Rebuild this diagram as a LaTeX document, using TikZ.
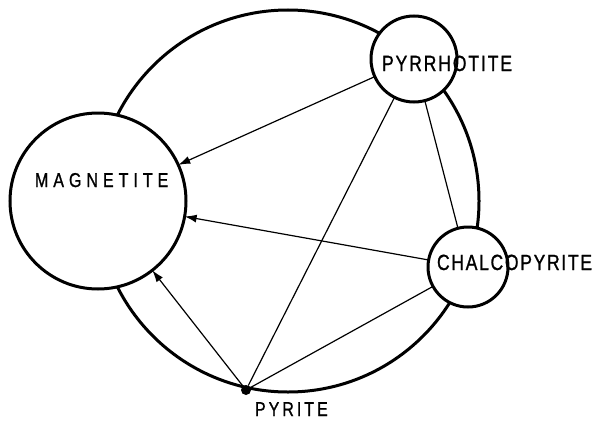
\documentclass[tikz,border=0pt]{standalone}
\usepackage{fontspec}
\usetikzlibrary{arrows.meta}
\newfontfamily\labfont[FakeStretch=0.8,FakeBold=1]{Liberation Sans}
\tikzset{
  mineral/.style={circle, draw, line width=3pt, fill=white, inner sep=0pt, outer sep=0pt},
  dotnode/.style={circle, fill=black, inner sep=0pt, minimum size=10pt, outer sep=0pt},
  link/.style={line width=1.2pt},
  flow/.style={line width=1.2pt, -{Latex[length=12pt,width=8pt]}},
  lab/.style={anchor=base west, inner sep=0pt, outer sep=0pt},
}
\begin{document}
\begin{tikzpicture}[x=1pt,y=-1pt]
\useasboundingbox (0,0) rectangle (593,420);
% large cycle
\draw[line width=3pt] (288,201) circle[radius=191pt];
% mineral nodes
\node[mineral, minimum size=176pt] (M) at (98,201) {};
\node[mineral, minimum size=86pt] (Po) at (414,59) {};
\node[mineral, minimum size=80pt] (Cp) at (468,267) {};
\node[dotnode] (Py) at (246,390) {};
% connectors
\draw[flow] (Po) -- (M);
\draw[flow] (Cp) -- (M);
\draw[flow] (Py) -- (M);
\draw[link] (Po) -- (Py);
\draw[link] (Po) -- (Cp);
\draw[link] (Cp) -- (Py);
% labels
\node[lab, font={\fontsize{20}{20}\labfont\addfontfeature{LetterSpace=25}}] (tM) at (35,187) {MAGNETITE};
\node[lab, font={\fontsize{22}{22}\labfont\addfontfeature{LetterSpace=8.4}}] (tPo) at (382,71) {PYRRHOTITE};
\node[lab, font={\fontsize{22}{22}\labfont\addfontfeature{LetterSpace=7.5}}] (tCp) at (437,270) {CHALCOPYRITE};
\node[lab, font={\fontsize{20}{20}\labfont\addfontfeature{LetterSpace=15}}] (tPy) at (255,416) {PYRITE};
\end{tikzpicture}
\end{document}
